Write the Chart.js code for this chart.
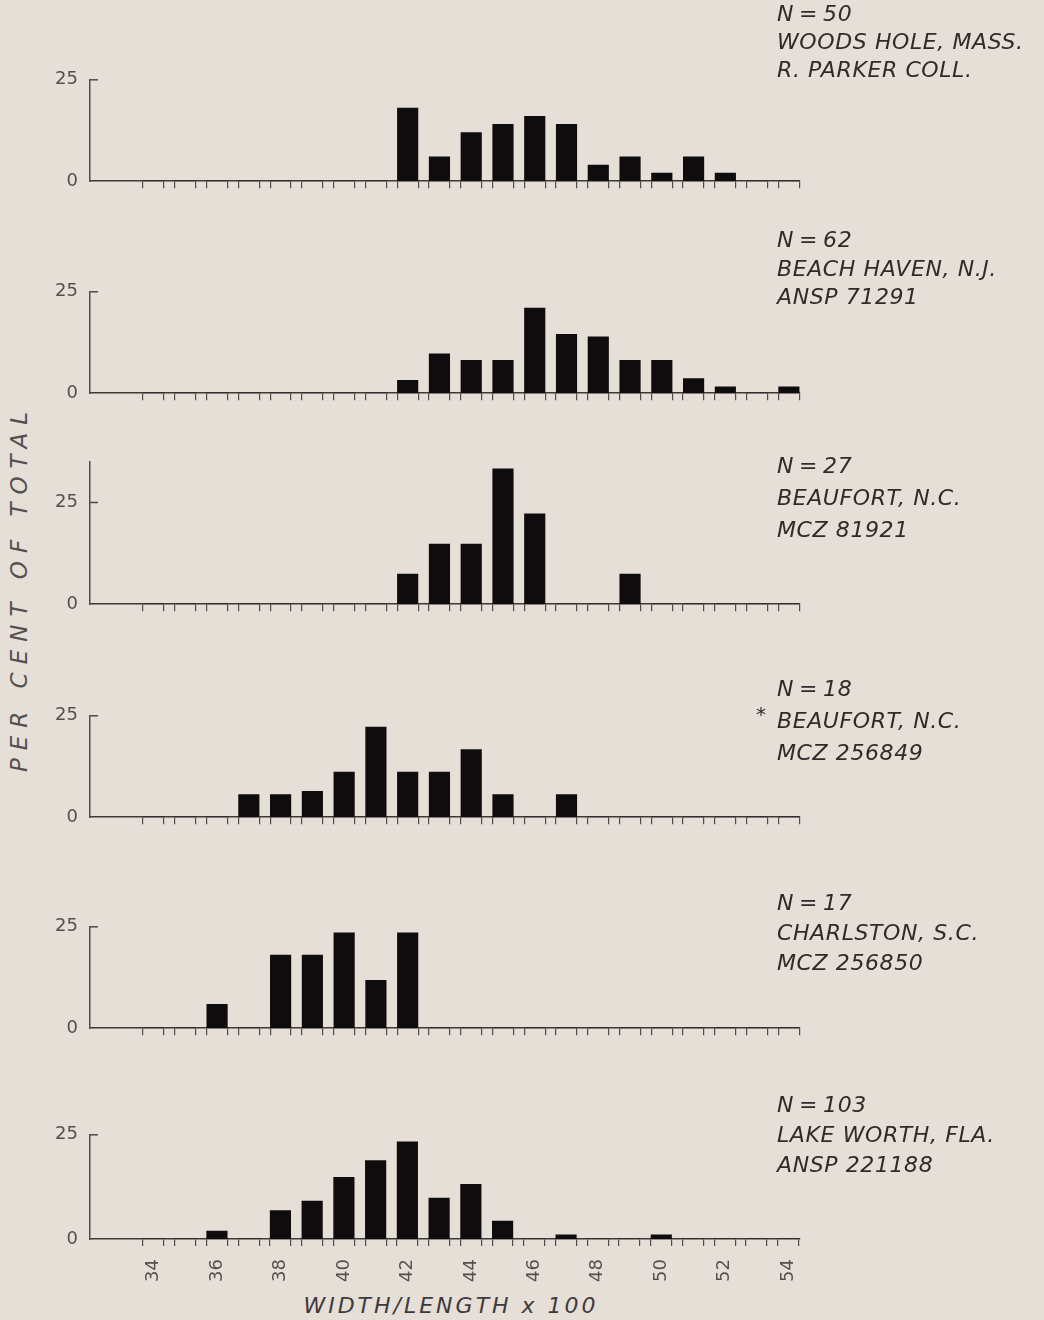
<!DOCTYPE html>
<html>
<head>
<meta charset="utf-8">
<script src="https://cdn.jsdelivr.net/npm/chart.js@4.4.1/dist/chart.umd.min.js"></script>
<style>
  body { margin: 0; background: #e6dfd8; }
  #page { position: relative; width: 1044px; height: 1320px; overflow: hidden; background: #e6dfd8; }
  #page canvas { position: absolute; left: 0; }
  .note { position: absolute; left: 777px; font-family: "DejaVu Sans"; font-style: italic;
          font-size: 22px; letter-spacing: 0.6px; color: #2f2b2b; white-space: nowrap; }
  .star { position: absolute; left: 756px; top: 702px; font-family: "DejaVu Sans"; font-size: 20px; color: #2f2b2b; }
  #ytitle { position: absolute; left: 19px; top: 588px; transform: translate(-50%, -50%) rotate(-90deg);
            font-family: "DejaVu Sans"; font-style: italic; font-size: 23px; letter-spacing: 8px;
            color: #555050; white-space: nowrap; }
  #xtitle { position: absolute; left: 451px; top: 1305px; transform: translate(-50%, -50%);
            font-family: "DejaVu Sans"; font-style: italic; font-size: 22px; letter-spacing: 3px;
            color: #3f3a3a; white-space: nowrap; }
</style>
</head>
<body>
<div id="page">
  <div id="ytitle">PER CENT OF TOTAL</div>
  <div id="xtitle">WIDTH/LENGTH x 100</div>
</div>
<script>
// width/length x 100 classes
const categories = [34, 35, 36, 37, 38, 39, 40, 41, 42, 43, 44, 45, 46, 47, 48, 49, 50, 51, 52, 53, 54];

// percent of total per class, one array per sample
const woodsHole   = [0, 0, 0, 0, 0, 0, 0, 0, 18, 6, 12, 14, 16, 14, 4, 6, 2, 6, 2, 0, 0];
const beachHaven  = [0, 0, 0, 0, 0, 0, 0, 0, 3.2, 9.7, 8.1, 8.1, 21.0, 14.5, 13.9, 8.1, 8.1, 3.6, 1.6, 0, 1.6];
const beaufort27  = [0, 0, 0, 0, 0, 0, 0, 0, 7.4, 14.8, 14.8, 33.3, 22.2, 0, 0, 7.4, 0, 0, 0, 0, 0];
const beaufort18  = [0, 0, 0, 5.6, 5.6, 6.4, 11.1, 22.2, 11.1, 11.1, 16.7, 5.6, 0, 5.6, 0, 0, 0, 0, 0, 0, 0];
const charleston  = [0, 0, 5.9, 0, 18.0, 18.0, 23.5, 11.8, 23.5, 0, 0, 0, 0, 0, 0, 0, 0, 0, 0, 0, 0];
const lakeWorth   = [0, 0, 1.9, 0, 6.8, 9.1, 14.8, 18.8, 23.3, 9.8, 13.1, 4.3, 0, 1.0, 0, 0, 1.0, 0, 0, 0, 0];

const yTicks = [0, 25];
const xLabels = [34, 36, 38, 40, 42, 44, 46, 48, 50, 52, 54];

const sampleNotes = [
  ['N\u2009=\u200950', 'WOODS HOLE, MASS.', 'R. PARKER  COLL.'],
  ['N\u2009=\u200962', 'BEACH HAVEN, N.J.', 'ANSP 71291'],
  ['N\u2009=\u200927', 'BEAUFORT, N.C.', 'MCZ  81921'],
  ['N\u2009=\u200918', 'BEAUFORT, N.C.', 'MCZ  256849'],
  ['N\u2009=\u200917', 'CHARLSTON, S.C.', 'MCZ  256850'],
  ['N\u2009=\u2009103', 'LAKE WORTH, FLA.', 'ANSP 221188']
];

// layout
const baselines = [181, 393, 604, 817, 1028, 1239];
const noteTops = [0, 226, 450, 673, 888, 1090];
const noteLines = [28, 28.5, 32, 32, 30, 30];
const PX_PER_PCT = 4.18;
const AXIS_GREY = '#4f4b4b';
const TEXT_GREY = '#555050';
const FONT = 'DejaVu Sans';

const innerTick = {
  id: 'innerTick',
  afterDraw(chart) {
    const ctx = chart.ctx;
    const py = chart.scales.y.getPixelForValue(25);
    const left = chart.chartArea.left;
    ctx.save();
    ctx.strokeStyle = AXIS_GREY;
    ctx.lineWidth = 1.5;
    ctx.beginPath();
    ctx.moveTo(left, py);
    ctx.lineTo(left + 8, py);
    ctx.stroke();
    ctx.restore();
  }
};

// tick marks sit on the class edges
function edgeTicks() {
  const t = [];
  categories.forEach(c => { t.push({ value: c - 0.33 }); t.push({ value: c + 0.33 }); });
  return t;
}

function makePanel(idx, values, ymax, isBottom) {
  const page = document.getElementById('page');
  const canvas = document.createElement('canvas');
  const plotH = PX_PER_PCT * ymax;
  const xH = 12;
  const extra = isBottom ? 50 : 0;
  let h = Math.round(14 + plotH + xH + extra);
  canvas.width = 810;
  canvas.height = h;
  canvas.style.width = '810px';
  canvas.style.height = h + 'px';
  page.appendChild(canvas);

  const scales = {
    x: {
      type: 'linear',
      min: 32,
      max: 54.35,
      offset: false,
      weight: 0,
      afterBuildTicks: s => { s.ticks = edgeTicks(); },
      afterFit: s => { s.height = xH; },
      grid: { offset: false, drawOnChartArea: false, drawTicks: true, tickLength: 7, color: AXIS_GREY, lineWidth: 1.2 },
      border: { display: true, color: '#3d3939', width: 1.6 },
      ticks: { autoSkip: false, callback: () => '', padding: 0, maxRotation: 0 }
    },
    y: {
      type: 'linear',
      min: 0,
      max: ymax,
      afterBuildTicks: s => { s.ticks = yTicks.map(v => ({ value: v })); },
      afterFit: s => { s.width = 90; },
      grid: { display: false },
      border: { display: true, color: AXIS_GREY, width: 1.5 },
      ticks: { padding: 4, color: TEXT_GREY, font: { family: FONT, size: 18 } }
    }
  };
  if (isBottom) {
    scales.x2 = {
      type: 'linear',
      position: 'bottom',
      min: 32,
      max: 54.35,
      offset: false,
      weight: 1,
      afterBuildTicks: s => { s.ticks = xLabels.map(v => ({ value: v })); },
      afterFit: s => { s.height = extra; },
      grid: { display: false },
      border: { display: false },
      ticks: { autoSkip: false, minRotation: 90, maxRotation: 90, padding: 0, color: TEXT_GREY,
               font: { family: FONT, size: 18 } }
    };
  }

  const chart = new Chart(canvas, {
    type: 'bar',
    data: {
      datasets: [{
        data: categories.map((c, i) => ({ x: c, y: values[i] })),
        backgroundColor: '#0e0c0c',
        borderWidth: 0,
        barThickness: 20.5
      }]
    },
    options: {
      responsive: false,
      animation: false,
      devicePixelRatio: 1,
      layout: { padding: { top: 14, right: 10, left: 0, bottom: 0 } },
      scales: scales,
      plugins: { legend: { display: false }, tooltip: { enabled: false } }
    },
    plugins: [innerTick]
  });

  // make the plot area exactly plotH tall and put its baseline where it belongs
  const topOff = chart.chartArea.top;
  const botOff = h - chart.chartArea.bottom;
  h = Math.round(topOff + plotH + botOff);
  canvas.style.height = h + 'px';
  chart.resize(810, h);
  canvas.style.top = Math.round(baselines[idx] - chart.chartArea.bottom) + 'px';

  // sample note on the right
  const note = document.createElement('div');
  note.className = 'note';
  note.style.top = noteTops[idx] + 'px';
  note.style.lineHeight = noteLines[idx] + 'px';
  note.innerHTML = sampleNotes[idx].join('<br>');
  page.appendChild(note);
}

document.addEventListener('DOMContentLoaded', function () {
  makePanel(0, woodsHole, 25, false);
  makePanel(1, beachHaven, 25, false);
  makePanel(2, beaufort27, 35, false);
  makePanel(3, beaufort18, 25, false);
  makePanel(4, charleston, 25, false);
  makePanel(5, lakeWorth, 25, true);

  const star = document.createElement('div');
  star.className = 'star';
  star.textContent = '*';
  document.getElementById('page').appendChild(star);
});
</script>
</body>
</html>
